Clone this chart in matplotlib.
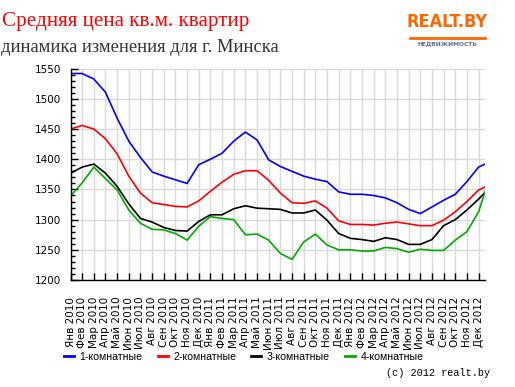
import matplotlib
matplotlib.use("Agg")
import matplotlib.pyplot as plt
from matplotlib.ticker import MultipleLocator

# Month labels Jan 2010 .. Dec 2012
mon = ["Янв", "Фев", "Мар", "Апр", "Май", "Июн", "Июл", "Авг", "Сен", "Окт", "Ноя", "Дек"]
labels = [f"{m} {y}" for y in (2010, 2011, 2012) for m in mon]

# month index, last point is mid-December 2012
x_vals = list(range(36)) + [35.55]

room1 = [1542, 1542, 1533, 1511, 1468, 1430, 1403, 1379, 1372, 1366, 1360, 1391,
         1400, 1410, 1430, 1445, 1432, 1399, 1388, 1380, 1372, 1367, 1363, 1346,
         1342, 1342, 1340, 1336, 1328, 1317, 1310, 1321, 1332, 1342, 1363, 1387, 1392]
room2 = [1450, 1456, 1450, 1434, 1409, 1372, 1344, 1328, 1325, 1322, 1321, 1331,
         1347, 1362, 1375, 1381, 1381, 1365, 1344, 1328, 1327, 1331, 1319, 1298,
         1292, 1292, 1291, 1294, 1296, 1293, 1290, 1290, 1299, 1313, 1330, 1349, 1354]
room3 = [1377, 1387, 1392, 1377, 1355, 1326, 1302, 1296, 1287, 1282, 1281, 1297,
         1308, 1308, 1318, 1323, 1319, 1318, 1317, 1311, 1311, 1316, 1299, 1277,
         1269, 1267, 1264, 1270, 1267, 1259, 1259, 1267, 1290, 1300, 1316, 1334, 1345]
room4 = [1339, 1361, 1387, 1368, 1349, 1316, 1294, 1284, 1283, 1277, 1266, 1289,
         1305, 1302, 1300, 1275, 1276, 1266, 1244, 1234, 1263, 1276, 1258, 1250,
         1250, 1248, 1248, 1254, 1252, 1246, 1251, 1249, 1249, 1266, 1280, 1313, 1346]

series = [
    ("1-комнатные", room1, "#0000ff"),
    ("2-комнатные", room2, "#ff0000"),
    ("3-комнатные", room3, "#000000"),
    ("4-комнатные", room4, "#00aa00"),
]

W, H = 515, 387
fig = plt.figure(figsize=(W / 100, H / 100), dpi=100)
fig.patch.set_facecolor("white")

ax = fig.add_axes([70.5 / W, 1 - 280 / H, (485 - 70.5) / W, (280 - 68.7) / H])

for name, vals, col in series:
    ax.plot(x_vals, vals, color=col, lw=1.2, label=name, solid_joinstyle="round")

ax.set_xlim(0, 35.55)
ax.set_ylim(1200, 1550)
ax.set_xticks(range(36))
ax.set_xticklabels(labels, rotation=90, fontsize=7.5, family="DejaVu Sans")
ax.yaxis.set_major_locator(MultipleLocator(50))
ax.yaxis.set_minor_locator(MultipleLocator(10))
ax.tick_params(axis="x", direction="in", length=5, width=1, pad=12)
ax.tick_params(axis="y", which="major", direction="in", length=5, width=1, pad=7, labelsize=7.5)
ax.tick_params(axis="y", which="minor", direction="in", length=3, width=1)

ax.grid(True, which="major", color="#d9d9d9", lw=1)
ax.set_axisbelow(True)
for s in ("top", "right"):
    ax.spines[s].set_visible(False)
for s in ("left", "bottom"):
    ax.spines[s].set_linewidth(1)
    ax.spines[s].set_zorder(5)

# titles
fig.text(2 / W, 1 - 26 / H, "Средняя цена кв.м. квартир", color="#ff0000",
         family="Liberation Serif", fontsize=15.2, va="baseline")
fig.text(1 / W, 1 - 52 / H, "динамика изменения для г. Минска", color="#333333",
         family="Liberation Serif", fontsize=13.3, va="baseline")

# logo
fig.text(447 / W, 1 - 27 / H, "REALT.BY", color="#ff6600", fontsize=13,
         weight="bold", family="DejaVu Sans", stretch="condensed",
         ha="center", va="baseline")
fig.add_artist(plt.Line2D([410 / W, 485 / W], [1 - 37.5 / H, 1 - 37.5 / H],
                          color="#ff6600", lw=2))
fig.text(447 / W, 1 - 46 / H, "НЕДВИЖИМОСТЬ", color="#5a6e9c", fontsize=4.3,
         weight="bold", ha="center", va="baseline")

# legend
fig.legend(loc="center left", bbox_to_anchor=(60 / W, 1 - 357 / H), ncol=4,
           frameon=False, prop={"family": "Liberation Sans", "size": 7.6},
           handlelength=0.95, handletextpad=0.5, columnspacing=1.45, borderaxespad=0)
for line in fig.legends[0].get_lines():
    line.set_linewidth(2)

fig.text(490 / W, 1 - 373 / H, "(c) 2012 realt.by", family="Liberation Mono",
         fontsize=7.3, ha="right", va="center")

fig.savefig("out.png", dpi=100)
